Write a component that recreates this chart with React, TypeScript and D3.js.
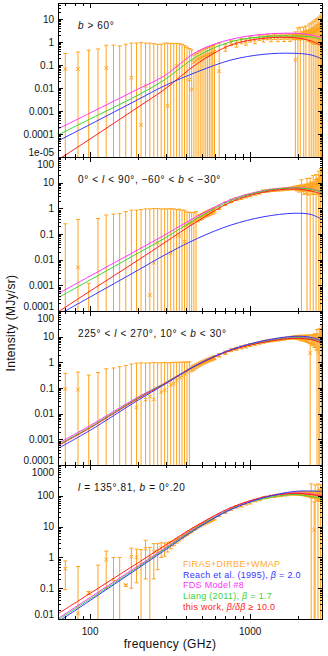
import { useRef, useEffect } from 'react'
import * as d3 from 'd3'

const WIDTH = 328
const HEIGHT = 656
const MARGIN = { left: 58, right: 5 }
const PANEL_TOP = 3
const PANEL_HEIGHT = 154
const FONT = '"Liberation Sans", Arial, Helvetica, sans-serif'

const COLORS = {
  data: '#ffa31a',
  legendData: '#ffab2e',
  reach: '#3636ff',
  fds: '#ff33ff',
  liang: '#3ad43a',
  thisWork: '#ff1c1c',
}

// frequencies (GHz) of the FIRAS+DIRBE+WMAP points
const FREQ = [
  70, 84, 98, 112, 126, 140, 153, 167, 181, 195, 208, 222, 236, 250, 264, 278, 292, 305, 319, 333,
  347, 361, 375, 389, 403, 417, 431, 445, 459, 473, 487, 500, 514, 528, 542, 556, 570, 584, 598,
  640, 700, 760, 820, 880, 940, 1000, 1070, 1140, 1210, 1280, 1350, 1420, 1490, 1560, 1630, 1700, 1770, 1840,
  1880, 1915, 1950, 1985, 2020, 2055, 2090, 2125, 2160, 2195, 2230, 2265, 2300, 2335, 2370, 2405,
  2440, 2475, 2510, 2545, 2580, 2615, 2650, 2685, 2720, 2755, 2790, 2825,
]

// frequencies at which the model curves were read
const CURVE_FREQ = [63, 100, 200, 290, 470, 760, 1220, 1880, 2400, 2850]

const X_DOMAIN: [number, number] = [63, 2850]
const X_MAJOR = [100, 1000]
const X_TICK_LABELS = ['100', '1000']

// ---- panel 1: b > 60°
const P1_VAL = [
  0.067, 0.067, -0.1, -0.1, 0.075, -0.2, -0.1, -0.2, 0.028, -0.1, 0.00025, 0.0123, -0.2, -0.1, -0.3, -0.1, -0.1, 0.0017, -0.1, -0.05,
  0.091, -0.1, -0.05, -0.1, -0.05, 0.023, 0.0089, 0.135, 0.157, 0.185, 0.2, 0.22, 0.24, 0.26, 0.29, 0.3, 0.33, 0.35, 0.38,
  0.054, 0.6, 0.95, 0.88, 1.15, 1.05, 1.35, 1.22, 1.58, 1.42, 1.72, 1.48, 1.78, 1.52, 1.8, 1.55, 1.85, 1.58, 1.8,
  1.7, 0.17, 1.8, 1.9, 1.75, 2.0, 1.85, 2.1, 1.9, 2.3, 2.0, 2.4, 2.1, 2.6, 2.2, 2.8,
  2.4, 3.0, 2.6, 3.2, 3.0, 3.5, 3.3, 4.0, 3.8, 4.5, 5.0, 6.0,
]
const P1_ERR = [
  0.25, 0.3, 0.54, 0.6, 0.65, 0.93, 0.78, 1.0, 0.87, 1.0, 0.95, 0.89, 1.1, 0.95, 1.1, 0.9, 1.0, 0.9, 0.98, 0.9,
  0.78, 0.95, 0.85, 0.8, 0.65, 0.5, 0.45, 0.14, 0.16, 0.19, 0.21, 0.23, 0.25, 0.27, 0.3, 0.31, 0.34, 0.36, 0.39,
  0.85, 0.2, 0.25, 0.28, 0.3, 0.32, 0.35, 0.38, 0.4, 0.42, 0.45, 0.45, 0.48, 0.48, 0.5, 0.5, 0.52, 0.52, 0.55,
  0.4, 2.6, 0.5, 2.2, 0.5, 2.4, 0.6, 0.7, 2.6, 0.8, 3.0, 0.9, 1.0, 3.5, 1.2, 4.0,
  1.5, 5.0, 1.8, 6.0, 2.0, 7.0, 2.5, 8.0, 3.0, 9.0, 10, 12,
]
const P1_REACH = [5.0e-5, 2.6e-4, 3.2e-3, 0.0123, 0.0515, 0.166, 0.294, 0.325, 0.274, 0.178]
const P1_FDS = [1.66e-4, 8.2e-4, 9.1e-3, 0.0335, 0.4, 1.32, 2.18, 2.41, 2.03, 1.5]
const P1_LIANG = [9.1e-5, 4.5e-4, 5.0e-3, 0.0224, 0.25, 1.04, 1.71, 1.84, 1.66, 1.23]
const P1_THIS = [7.5e-6, 6.1e-5, 1.5e-3, 0.0085, 0.119, 0.75, 1.46, 1.55, 1.11, 0.63]
const P1_Y_TICKS = [1e-5, 1e-4, 1e-3, 0.01, 0.1, 1, 10]
const P1_Y_LABELS = ['1e-05', '0.0001', '0.001', '0.01', '0.1', '1', '10']

// ---- panel 2: 0° < l < 90°, -60° < b < -30°
const P2_VAL = [
  -0.05, 0.005, -0.001, -0.05, -0.1, -0.1, -0.1, -0.1, -0.1, -0.1, -0.1, -0.1, 0.00042, 0.0075, 0.045, -0.1, -0.05, -0.1, 0.0178, -0.1,
  -0.05, 0.084, -0.05, 0.05, 0.22, 0.25, 0.28, 0.33, 0.36, 0.42, 0.46, 0.5, 0.56, 0.6, 0.64, 0.7, 0.74, 0.8, 0.86,
  1.1, 1.55, 1.95, 2.3, 2.55, 2.95, 3.2, 3.7, 4.05, 4.65, 4.75, 5.05, 5.1, 5.35, 5.4, 5.65, 5.7, 5.95, 6.0,
  6.2, 6.3, 6.0, 6.4, 5.8, 6.5, 6.0, 6.3, 5.5, 6.8, 6.0, 6.5, 5.8, 7.0, 6.0, 7.5,
  6.5, 8.0, 7.0, 9.0, 7.5, 10, 8.5, 12, 11, 15, 18, 22,
]
const P2_ERR = [
  0.3, 0.36, 0.0022, 0.45, 0.65, 0.7, 0.72, 0.85, 0.95, 0.95, 1.0, 1.05, 0.95, 0.98, 0.93, 1.05, 1.0, 1.05, 0.95, 1.05,
  0.95, 0.85, 0.9, 0.8, 0.5, 0.45, 0.4, 0.36, 0.38, 0.12, 0.12, 0.13, 0.14, 0.15, 0.16, 0.17, 0.18, 0.2, 0.2,
  0.2, 0.25, 0.3, 0.3, 0.35, 0.4, 0.4, 0.45, 0.5, 0.5, 0.5, 0.55, 0.55, 0.6, 0.6, 0.65, 0.65, 0.7, 0.7,
  0.8, 1.0, 1.2, 1.3, 1.5, 1.6, 7.0, 1.8, 2.0, 2.0, 2.2, 8.0, 2.5, 2.5, 9.0, 3.0,
  3.0, 11, 3.5, 4.0, 13, 5, 5, 16, 8, 20, 15, 25,
]
const P2_REACH = [7.0e-5, 3.5e-4, 3.96e-3, 0.0148, 0.068, 0.224, 0.472, 0.641, 0.575, 0.352]
const P2_FDS = [4.7e-4, 2.31e-3, 0.0247, 0.089, 0.5, 2.21, 4.95, 6.4, 5.7, 4.14]
const P2_LIANG = [3.27e-4, 1.62e-3, 0.0182, 0.0668, 0.42, 2.02, 4.73, 6.2, 5.5, 4.14]
const P2_THIS = [9.1e-5, 6.0e-4, 9.7e-3, 0.0447, 0.32, 1.77, 4.33, 5.66, 4.73, 3.46]
const P2_Y_TICKS = [1e-4, 1e-3, 0.01, 0.1, 1, 10, 100]
const P2_Y_LABELS = ['0.0001', '0.001', '0.01', '0.1', '1', '10', '100']

// ---- panel 3: 225° < l < 270°, 10° < b < 30°
const P3_VAL = [
  0.092, 0.087, -0.05, -0.05, -0.1, -0.1, -0.1, -0.1, -0.05, 0.0178, -0.1, 0.0355, 0.046, 0.036, -0.05, 0.07, 0.084, -0.1, 0.132, 0.15,
  0.2, 0.25, 0.3, 0.36, 0.42, 0.5, 0.58, 0.64, 0.72, 0.8, 0.88, 0.96, 1.04, 1.12, 1.2, 1.28, 1.36, 1.45, 1.55,
  1.9, 2.4, 3.0, 3.4, 3.85, 4.2, 4.75, 5.2, 5.8, 6.3, 6.8, 7.1, 7.45, 7.7, 8.1, 8.35, 8.7, 8.95, 9.3,
  9.4, 9.3, 9.5, 9.2, 9.6, 9.0, 9.4, 8.8, 9.2, 8.7, 9.0, 8.5, 8.8, 8.3, 2.3, 8.6,
  8.0, 8.5, 7.8, 8.5, 7.5, 9.0, 8.0, 2.4, 9.5, 10, 12, 14,
]
const P3_ERR = [
  0.28, 0.33, 0.37, 0.45, 0.66, 0.7, 0.78, 0.86, 0.91, 0.9, 1.05, 0.9, 0.9, 0.95, 1.0, 0.9, 0.9, 1.05, 0.85, 0.85,
  0.8, 0.75, 0.72, 0.68, 0.6, 0.55, 0.15, 0.15, 0.15, 0.15, 0.16, 0.17, 0.18, 0.19, 0.2, 0.22, 0.23, 0.25, 0.27,
  0.3, 0.35, 0.4, 0.45, 0.5, 0.55, 0.6, 0.6, 0.7, 0.7, 0.75, 0.8, 0.8, 0.85, 0.9, 0.9, 0.95, 1.0, 1.0,
  1.2, 1.3, 1.5, 1.5, 1.7, 1.8, 2.0, 2.0, 2.2, 2.3, 2.5, 2.5, 2.8, 3.0, 3.5, 3.2,
  3.5, 3.5, 4.0, 4.5, 4.5, 10, 5.0, 4.0, 11, 6, 14, 16,
]
const P3_REACH = [4.4e-4, 2.25e-3, 0.034, 0.134, 0.82, 3.15, 7.0, 10.3, 9.4, 6.7]
const P3_FDS = [6.9e-4, 3.45e-3, 0.045, 0.152, 0.84, 3.05, 6.5, 9.3, 8.4, 6.0]
const P3_LIANG = [6.1e-4, 3.05e-3, 0.042, 0.148, 0.83, 3.0, 6.4, 9.1, 8.2, 5.8]
const P3_THIS = [5.6e-4, 2.8e-3, 0.039, 0.141, 0.8, 2.9, 6.1, 8.6, 7.7, 5.4]
const P3_Y_TICKS = P2_Y_TICKS
const P3_Y_LABELS = P2_Y_LABELS

// ---- panel 4: l = 135°.81, b = 0°.20
const P4_VAL = [
  0.43, 0.015, 0.07, -0.2, 0.85, 0.19, -0.1, 0.125, 1.05, 1.0, 0.6, 1.9, 1.0, 1.5, 1.6, 2.0, 2.0, 2.3, 2.6, 3.0,
  3.5, 4.0, 4.6, 5.2, 5.9, 6.6, 7.4, 8.3, 9.1, 10, 10.8, 11.6, 12.5, 13.4, 14.3, 15.2, 16.2, 17.3, 18.3,
  24, 30, 37, 44, 48, 56, 60, 70, 76, 87, 90, 96, 97, 103, 104, 110, 111, 117, 117,
  120, 121, 119, 122, 118, 121, 117, 120, 116, 119, 114, 118, 112, 116, 110, 115,
  108, 113, 7.7, 105, 110, 100, 112, 105, 120, 100, 130, 140,
]
const P4_ERR = [
  0.34, 0.49, 0.008, 0.76, 0.75, 0.8, 1.1, 0.01, 0.95, 0.85, 1.2, 1.7, 1.1, 1.3, 1.2, 1.0, 0.9, 0.8, 0.7, 0.6,
  0.6, 0.6, 0.6, 0.6, 0.7, 0.7, 0.8, 0.8, 0.9, 0.9, 1.0, 1.0, 1.1, 1.2, 1.3, 1.4, 1.5, 1.6, 1.7,
  2.5, 3, 3.5, 4, 4.5, 5, 5.5, 6, 6.5, 7, 7.5, 8, 8.5, 9, 9.5, 10, 10, 10.5, 11,
  12, 12, 13, 13, 14, 14, 15, 16, 16, 17, 18, 18, 19, 20, 22, 130,
  24, 26, 56, 120, 30, 32, 130, 40, 45, 130, 60, 150,
]
const P4_REACH = [0.008, 0.04, 0.446, 1.65, 9.0, 35.9, 88, 138, 143, 138]
const P4_FDS = [0.0103, 0.05, 0.533, 1.91, 10.1, 38.7, 88, 123, 114, 102]
const P4_LIANG = [0.0093, 0.0446, 0.488, 1.8, 9.7, 37.3, 81.7, 110, 95, 81.7]
const P4_THIS = [0.0148, 0.068, 0.678, 2.34, 11.3, 41.7, 91.4, 119, 110, 95]
const P4_Y_TICKS = [0.01, 0.1, 1, 10, 100, 1000]
const P4_Y_LABELS = ['0.01', '0.1', '1', '10', '100', '1000']

type Segment = [string, boolean]

const P1_TITLE: Segment[] = [['b', true], [' > 60°', false]]
const P2_TITLE: Segment[] = [['0° < ', false], ['l', true], [' < 90°, −60° < ', false], ['b', true], [' < −30°', false]]
const P3_TITLE: Segment[] = [['225° < ', false], ['l', true], [' < 270°, 10° < ', false], ['b', true], [' < 30°', false]]
const P4_TITLE: Segment[] = [['l', true], [' = 135°.81, ', false], ['b', true], [' = 0°.20', false]]

const LEGEND: { segments: Segment[]; color: string }[] = [
  { segments: [['FIRAS+DIRBE+WMAP', false]], color: COLORS.legendData },
  { segments: [['Reach et al. (1995), ', false], ['β', true], [' = 2.0', false]], color: COLORS.reach },
  { segments: [['FDS Model #8', false]], color: COLORS.fds },
  { segments: [['Liang (2011), ', false], ['β', true], [' = 1.7', false]], color: COLORS.liang },
  { segments: [['this work, ', false], ['β/δβ', true], [' ≥ 10.0', false]], color: COLORS.thisWork },
]

interface PanelDef {
  title: Segment[]
  yDomain: [number, number]
  yTicks: number[]
  yLabels: string[]
  val: number[]
  err: number[]
  reach: number[]
  fds: number[]
  liang: number[]
  thisWork: number[]
}

const PANELS: PanelDef[] = [
  { title: P1_TITLE, yDomain: [1e-5, 50], yTicks: P1_Y_TICKS, yLabels: P1_Y_LABELS, val: P1_VAL, err: P1_ERR, reach: P1_REACH, fds: P1_FDS, liang: P1_LIANG, thisWork: P1_THIS },
  { title: P2_TITLE, yDomain: [1e-4, 100], yTicks: P2_Y_TICKS, yLabels: P2_Y_LABELS, val: P2_VAL, err: P2_ERR, reach: P2_REACH, fds: P2_FDS, liang: P2_LIANG, thisWork: P2_THIS },
  { title: P3_TITLE, yDomain: [1e-4, 100], yTicks: P3_Y_TICKS, yLabels: P3_Y_LABELS, val: P3_VAL, err: P3_ERR, reach: P3_REACH, fds: P3_FDS, liang: P3_LIANG, thisWork: P3_THIS },
  { title: P4_TITLE, yDomain: [0.01, 1000], yTicks: P4_Y_TICKS, yLabels: P4_Y_LABELS, val: P4_VAL, err: P4_ERR, reach: P4_REACH, fds: P4_FDS, liang: P4_LIANG, thisWork: P4_THIS },
]

function addSegments(text: d3.Selection<SVGTextElement, unknown, null, undefined>, segments: Segment[]) {
  segments.forEach(([t, italic]) => {
    text.append('tspan').attr('font-style', italic ? 'italic' : 'normal').text(t)
  })
}

export default function App() {
  const svgRef = useRef<SVGSVGElement>(null)

  useEffect(() => {
    if (!svgRef.current) return
    const svg = d3.select(svgRef.current)
    svg.selectAll('*').remove()

    const left = MARGIN.left
    const right = WIDTH - MARGIN.right
    const xScale = d3.scaleLog().domain(X_DOMAIN).range([left, right])
    const xMinor = xScale.ticks().filter(t => !X_MAJOR.includes(t))

    PANELS.forEach((panel, pi) => {
      const top = PANEL_TOP + pi * PANEL_HEIGHT
      const bottom = top + PANEL_HEIGHT
      const yScale = d3.scaleLog().domain(panel.yDomain).range([bottom, top])
      const yPos = (v: number) => (v > 0 ? yScale(v) : bottom + 20)

      const clipId = `panel-clip-${pi}`
      svg.append('clipPath').attr('id', clipId)
        .append('rect')
        .attr('x', left).attr('y', top)
        .attr('width', right - left).attr('height', PANEL_HEIGHT)

      const plot = svg.append('g').attr('clip-path', `url(#${clipId})`)
      const points = FREQ.map((f, i) => ({ f, v: panel.val[i], e: panel.err[i] }))

      // error bars
      plot.append('g').selectAll('line')
        .data(points)
        .enter()
        .append('line')
        .attr('x1', d => xScale(d.f)).attr('x2', d => xScale(d.f))
        .attr('y1', d => yPos(d.v - d.e)).attr('y2', d => yPos(d.v + d.e))
        .attr('stroke', COLORS.data)
        .attr('stroke-width', 1)

      // caps on the error bars
      const caps = points.flatMap(d => [d.v + d.e, d.v - d.e].filter(c => c > 0).map(c => ({ f: d.f, c })))
      plot.append('g').selectAll('line')
        .data(caps)
        .enter()
        .append('line')
        .attr('x1', d => xScale(d.f) - 2).attr('x2', d => xScale(d.f) + 2)
        .attr('y1', d => yScale(d.c)).attr('y2', d => yScale(d.c))
        .attr('stroke', COLORS.data)
        .attr('stroke-width', 1)

      // point markers
      plot.append('g').selectAll('path')
        .data(points.filter(d => d.v > 0))
        .enter()
        .append('path')
        .attr('d', d => {
          const cx = xScale(d.f)
          const cy = yScale(d.v)
          const s = 1.8
          return `M${cx - s},${cy - s}L${cx + s},${cy + s}M${cx - s},${cy + s}L${cx + s},${cy - s}`
        })
        .attr('fill', 'none')
        .attr('stroke', COLORS.data)
        .attr('stroke-width', 1)

      // model curves
      const curve = d3.line<number>()
        .x((_, i) => xScale(CURVE_FREQ[i]))
        .y(v => yScale(v))
        .curve(d3.curveCatmullRom.alpha(0.5))

      const models: [number[], string][] = [
        [panel.fds, COLORS.fds],
        [panel.liang, COLORS.liang],
        [panel.thisWork, COLORS.thisWork],
        [panel.reach, COLORS.reach],
      ]
      models.forEach(([values, color]) => {
        plot.append('path')
          .datum(values)
          .attr('d', curve)
          .attr('fill', 'none')
          .attr('stroke', color)
          .attr('stroke-width', 1)
      })

      // frame
      svg.append('rect')
        .attr('x', left + 0.5).attr('y', top + 0.5)
        .attr('width', right - left - 1).attr('height', PANEL_HEIGHT)
        .attr('fill', 'none')
        .attr('stroke', '#000')
        .attr('stroke-width', 1)

      const ticks = svg.append('g').attr('stroke', '#000').attr('stroke-width', 1)

      // y ticks, left and right
      const yMinor = yScale.ticks().filter(t => !panel.yTicks.some(m => Math.abs(m - t) / m < 1e-6))
      const yTickData = [
        ...panel.yTicks.map(t => ({ t, len: 5 })),
        ...yMinor.map(t => ({ t, len: 3 })),
      ].filter(d => d.t >= panel.yDomain[0] && d.t <= panel.yDomain[1])
      yTickData.forEach(d => {
        const yy = Math.round(yScale(d.t)) + 0.5
        ticks.append('line').attr('x1', left).attr('x2', left + d.len).attr('y1', yy).attr('y2', yy)
        ticks.append('line').attr('x1', right - d.len).attr('x2', right).attr('y1', yy).attr('y2', yy)
      })

      // x ticks, top and bottom
      const xTickData = [
        ...X_MAJOR.map(t => ({ t, len: 5 })),
        ...xMinor.map(t => ({ t, len: 3 })),
      ]
      xTickData.forEach(d => {
        const xx = Math.round(xScale(d.t)) + 0.5
        ticks.append('line').attr('x1', xx).attr('x2', xx).attr('y1', bottom).attr('y2', bottom - d.len)
        ticks.append('line').attr('x1', xx).attr('x2', xx).attr('y1', top).attr('y2', top + d.len)
      })

      // y tick labels (end labels nudged off the shared panel edge)
      svg.append('g').selectAll('text')
        .data(panel.yTicks)
        .enter()
        .append('text')
        .attr('x', left - 4)
        .attr('y', d => {
          const yy = yScale(d)
          if (Math.abs(yy - bottom) < 0.5) return yy - 5
          if (Math.abs(yy - top) < 0.5) return yy + 7
          return yy
        })
        .attr('dy', '0.35em')
        .attr('text-anchor', 'end')
        .attr('font-family', FONT)
        .attr('font-size', 10)
        .attr('fill', '#111')
        .text((_, i) => panel.yLabels[i])

      // panel title
      const title = svg.append('text')
        .attr('x', 78)
        .attr('y', top + 26)
        .attr('font-family', FONT)
        .attr('font-size', 10)
        .attr('letter-spacing', 0.6)
        .attr('fill', '#111')
        .style('white-space', 'pre')
      addSegments(title, panel.title)

      // x tick labels and legend on the last panel
      if (pi === PANELS.length - 1) {
        svg.append('g').selectAll('text')
          .data(X_MAJOR)
          .enter()
          .append('text')
          .attr('x', d => xScale(d))
          .attr('y', bottom + 16)
          .attr('text-anchor', 'middle')
          .attr('font-family', FONT)
          .attr('font-size', 10)
          .attr('fill', '#111')
          .text((_, i) => X_TICK_LABELS[i])

        LEGEND.forEach((entry, i) => {
          const t = svg.append('text')
            .attr('x', 183)
            .attr('y', top + 102 + i * 10.7)
            .attr('font-family', FONT)
            .attr('font-size', 9)
            .attr('letter-spacing', 0.3)
            .attr('fill', entry.color)
            .style('white-space', 'pre')
          addSegments(t, entry.segments)
        })
      }
    })

    // axis titles
    svg.append('text')
      .attr('transform', `translate(15, ${PANEL_TOP + 2 * PANEL_HEIGHT + 12}) rotate(-90)`)
      .attr('text-anchor', 'middle')
      .attr('font-family', FONT)
      .attr('font-size', 12)
      .attr('letter-spacing', 0.3)
      .attr('fill', '#111')
      .text('Intensity (MJy/sr)')

    svg.append('text')
      .attr('x', 170)
      .attr('y', 648)
      .attr('text-anchor', 'middle')
      .attr('font-family', FONT)
      .attr('font-size', 12)
      .attr('letter-spacing', 0.3)
      .attr('fill', '#111')
      .text('frequency (GHz)')
  }, [])

  return (
    <div style={{ position: 'absolute', left: 0, top: 0 }}>
      <svg ref={svgRef} width={WIDTH} height={HEIGHT} style={{ display: 'block', background: '#fff' }} />
    </div>
  )
}
